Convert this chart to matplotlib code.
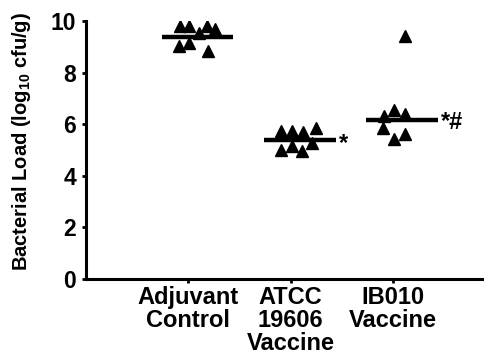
import matplotlib
matplotlib.use("Agg")
from matplotlib import pyplot as plt

plt.rcParams['font.family'] = ['Liberation Sans', 'DejaVu Sans']
plt.rcParams['font.weight'] = 'bold'
plt.rcParams['mathtext.fontset'] = 'custom'
plt.rcParams['mathtext.rm'] = 'Liberation Sans:bold'
plt.rcParams['mathtext.bf'] = 'Liberation Sans:bold'

# data
groups = ["Adjuvant\nControl", "ATCC\n19606\nVaccine", "IB010\nVaccine"]
adjuvant = [9.81, 9.81, 9.81, 9.68, 9.52, 9.14, 9.03, 8.84]
atcc = [5.75, 5.75, 5.69, 5.84, 5.28, 5.17, 5.02, 4.98]
ib010 = [6.33, 6.55, 6.40, 5.86, 5.41, 5.63, 9.42]
# horizontal jitter of the triangles around each group
adjuvant_dx = [-0.08, 0.01, 0.18, 0.26, 0.11, 0.01, -0.09, 0.19]
atcc_dx = [-0.09, 0.01, 0.12, 0.25, 0.21, 0.01, -0.09, 0.11]
ib010_dx = [-0.09, 0.01, 0.12, -0.10, 0.01, 0.12, 0.12]
centre_lines = [9.39, 5.37, 6.18]
marks = ["", "*", "*#"]

fig = plt.figure(figsize=(4.85, 3.62), dpi=100)
ax = fig.add_axes([0.177, 0.229, 0.823, 0.713])

series = [adjuvant, atcc, ib010]
offsets = [adjuvant_dx, atcc_dx, ib010_dx]
for i in range(3):
    pos = i + 1
    xs = [pos + d for d in offsets[i]]
    ax.plot(xs, series[i], linestyle="none", marker="^", markersize=8,
            color="black", zorder=3)
    ax.plot([pos - 0.26, pos + 0.44], [centre_lines[i], centre_lines[i]],
            color="black", linewidth=3.2, solid_capstyle="butt", zorder=2)
    if marks[i]:
        ax.text(pos + 0.47, centre_lines[i] - 0.12, marks[i], fontsize=17,
                fontweight="bold", va="center", ha="left")

ax.set_xlim(0.0, 3.9)
ax.set_ylim(0, 10)
ax.set_yticks([0, 2, 4, 6, 8, 10])
ax.set_xticks([1, 2, 3])
ax.set_xticklabels(groups, fontsize=17, fontweight="bold", linespacing=1.0)
ax.tick_params(axis="y", labelsize=16.5, width=2, length=3, pad=4)
ax.tick_params(axis="x", width=2, length=3, pad=2)
for lab in ax.get_yticklabels():
    lab.set_fontweight("bold")

ax.spines["top"].set_visible(False)
ax.spines["right"].set_visible(False)
ax.spines["left"].set_linewidth(2.2)
ax.spines["bottom"].set_linewidth(2.2)

ax.set_ylabel(r"Bacterial Load (log$_{10}$ cfu/g)", fontsize=14.5,
              fontweight="bold", labelpad=13, y=0.535)

plt.savefig("out.png", dpi=100)
